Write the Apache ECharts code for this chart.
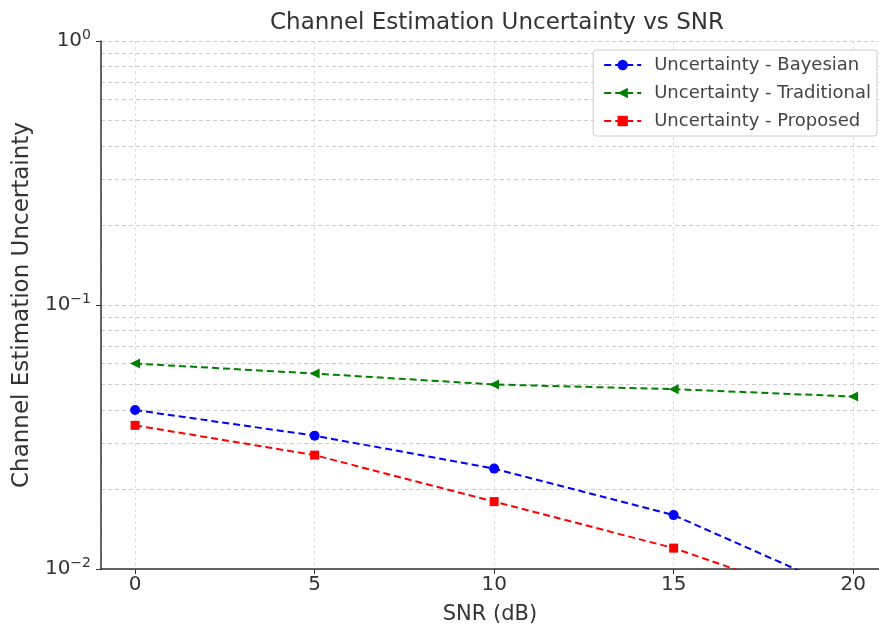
<!DOCTYPE html>
<html>
<head>
<meta charset="utf-8">
<script src="https://cdn.jsdelivr.net/npm/echarts@6/dist/echarts.min.js"></script>
<style>
  html, body { margin: 0; padding: 0; background: #fff; }
  #chart { width: 879px; height: 625px; }
</style>
</head>
<body>
<div id="chart"></div>
<script>
const snr = [0, 5, 10, 15, 20];
const bayesian = [0.040, 0.032, 0.024, 0.016, 0.008];
const traditional = [0.060, 0.055, 0.050, 0.048, 0.045];
const proposed = [0.035, 0.027, 0.018, 0.012, 0.007];
const minorGrid = [0.02, 0.03, 0.04, 0.05, 0.06, 0.07, 0.08, 0.09,
                   0.2, 0.3, 0.4, 0.5, 0.6, 0.7, 0.8, 0.9];

const FONT = 'DejaVu Sans';

const pairs = (ys) => snr.map((x, i) => [x, ys[i]]);

const chart = echarts.init(document.getElementById('chart'));

function lineSeries(name, ys, color, symbol, size, rotate) {
  return {
    name: name,
    type: 'line',
    data: pairs(ys),
    symbol: symbol,
    symbolSize: size,
    symbolRotate: rotate || 0,
    clip: true,
    itemStyle: { color: color },
    lineStyle: { color: color, width: 2, type: [7, 4] },
    z: 5
  };
}

chart.setOption({
  animation: false,
  textStyle: { fontFamily: FONT },
  title: {
    text: 'Channel Estimation Uncertainty vs SNR',
    left: 492, top: 7, textAlign: 'center',
    textStyle: { fontFamily: FONT, fontSize: 23, fontWeight: 'normal', color: '#333' }
  },
  legend: {
    right: 2, top: 50, orient: 'vertical', z: 20,
    backgroundColor: '#fff', borderColor: '#ccc', borderWidth: 1, borderRadius: 3,
    padding: [6, 6, 6, 10], itemGap: 10, itemWidth: 37, itemHeight: 13,
    textStyle: { fontFamily: FONT, fontSize: 18, color: '#444', padding: [0, 0, 0, 8] },
    data: ['Uncertainty - Bayesian', 'Uncertainty - Traditional', 'Uncertainty - Proposed']
  },
  grid: { left: 101, right: 0, top: 41, bottom: 56, outerBoundsMode: 'none', containLabel: false },
  xAxis: {
    type: 'value', min: -0.95, max: 20.72,
    name: 'SNR (dB)', nameLocation: 'middle', nameGap: 35,
    nameTextStyle: { fontFamily: FONT, fontSize: 21, color: '#333' },
    axisLine: { onZero: false, lineStyle: { color: '#333', width: 1.5 } },
    axisTick: { length: 5, lineStyle: { color: '#333' } },
    axisLabel: {
      fontFamily: FONT, fontSize: 20, color: '#333', margin: 6,
      showMinLabel: false, showMaxLabel: false,
      formatter: (v) => (v % 5 === 0 ? String(v) : '')
    },
    splitLine: { show: true, lineStyle: { color: '#ddd', type: [3, 3] } }
  },
  yAxis: {
    type: 'log', logBase: 10, min: 0.01, max: 1,
    name: 'Channel Estimation Uncertainty', nameLocation: 'middle', nameGap: 64,
    nameTextStyle: { fontFamily: FONT, fontSize: 23, color: '#333' },
    axisLine: { show: true, onZero: false, lineStyle: { color: '#333', width: 1.5 } },
    axisTick: { show: true, length: 5, lineStyle: { color: '#333' } },
    axisLabel: {
      fontFamily: FONT, fontSize: 20, color: '#333', margin: 10,
      formatter: (v) => {
        const e = Math.round(Math.log10(v));
        const s = e < 0 ? '\u2212' + (-e) : String(e);
        return '{b|10}{s|' + s + '}';
      },
      rich: {
        b: { fontFamily: FONT, fontSize: 20, color: '#333', lineHeight: 26 },
        s: { fontFamily: FONT, fontSize: 14, color: '#333', lineHeight: 14, verticalAlign: 'top' }
      }
    },
    splitLine: { show: true, lineStyle: { color: '#ccc', type: [4, 3] } }
  },
  series: [
    lineSeries('Uncertainty - Bayesian', bayesian, '#0000ff', 'circle', 10),
    lineSeries('Uncertainty - Traditional', traditional, '#008000', 'triangle', 10, 90),
    lineSeries('Uncertainty - Proposed', proposed, '#ff0000', 'rect', 9),
    {
      name: 'minor-grid', type: 'line', data: [], silent: true, z: 0,
      markLine: {
        silent: true, symbol: 'none', label: { show: false }, z: 0,
        lineStyle: { color: '#ccc', type: [4, 3], width: 1 },
        data: minorGrid.map(v => ({ yAxis: v }))
      }
    }
  ]
});
</script>
</body>
</html>
